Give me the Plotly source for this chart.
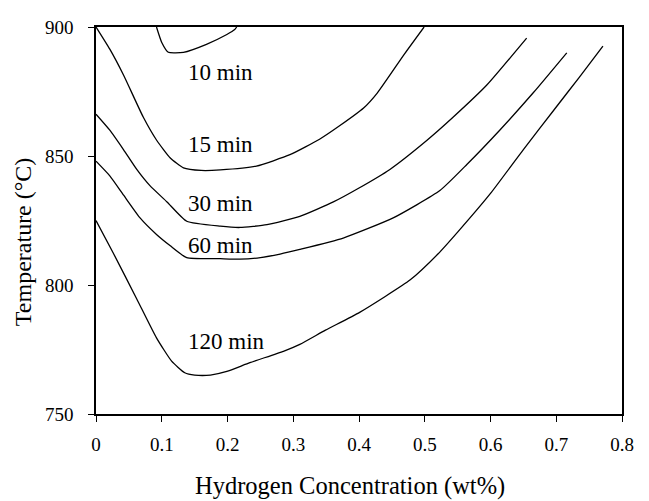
import plotly.graph_objects as go

# ---- data ----
x_10 = [0.092, 0.100, 0.110, 0.133, 0.168, 0.199, 0.211, 0.214]
y_10 = [900, 894.0, 890.2, 890.2, 893.3, 897.1, 899.0, 900]

x_15 = [0, 0.021, 0.042, 0.072, 0.092, 0.113, 0.133, 0.160, 0.189, 0.244, 0.295,
        0.340, 0.371, 0.407, 0.428, 0.469, 0.499]
y_15 = [900, 891.4, 881.3, 865.0, 856.2, 849.2, 845.4, 844.4, 844.6, 846.1, 850.5,
        856.5, 861.8, 868.6, 874.5, 889.5, 900]

x_30 = [0, 0.021, 0.042, 0.062, 0.082, 0.108, 0.138, 0.189, 0.219, 0.260, 0.310,
        0.361, 0.398, 0.447, 0.503, 0.543, 0.594, 0.655]
y_30 = [866.2, 860.0, 852.4, 844.8, 838.5, 832.2, 824.7, 822.8, 822.3, 823.4, 826.6,
        832.2, 837.3, 844.8, 856.0, 865.0, 877.4, 895.7]

x_60 = [0, 0.021, 0.042, 0.067, 0.092, 0.113, 0.138, 0.189, 0.219, 0.250, 0.280,
        0.310, 0.376, 0.452, 0.523, 0.564, 0.614, 0.665, 0.716]
y_60 = [848.0, 842.3, 834.8, 826.0, 819.6, 815.2, 810.6, 810.2, 810.0, 810.6, 812.0,
        813.8, 818.2, 826.0, 836.6, 846.7, 860.0, 874.5, 890.0]

x_120 = [0, 0.026, 0.062, 0.092, 0.115, 0.135, 0.150, 0.174, 0.199, 0.234, 0.285,
         0.310, 0.349, 0.401, 0.478, 0.520, 0.550, 0.600, 0.650, 0.700, 0.735, 0.771]
y_120 = [825.0, 812.5, 794.6, 779.5, 770.5, 766.0, 765.1, 765.1, 766.5, 769.9, 774.3,
         777.0, 782.5, 789.4, 802.0, 812.0, 820.5, 835.5, 852.5, 869.0, 880.5, 892.6]

label_text = ["10 min", "15 min", "30 min", "60 min", "120 min"]
label_x = [0.190, 0.189, 0.189, 0.189, 0.199]
label_y = [882.2, 854.3, 831.6, 815.2, 778.0]

x_ticks = [0, 0.1, 0.2, 0.3, 0.4, 0.5, 0.6, 0.7, 0.8]
y_ticks = [750, 800, 850, 900]

FONT = "Liberation Serif, Times New Roman, serif"

fig = go.Figure()
for xs, ys in [(x_10, y_10), (x_15, y_15), (x_30, y_30), (x_60, y_60), (x_120, y_120)]:
    fig.add_trace(go.Scatter(x=xs, y=ys, mode="lines",
                             line=dict(color="black", width=1.3, shape="spline", smoothing=0.5),
                             showlegend=False, hoverinfo="skip"))

for t, lx, ly in zip(label_text, label_x, label_y):
    fig.add_annotation(x=lx, y=ly, text=t, showarrow=False, xref="x", yref="y",
                       xanchor="center", yanchor="middle",
                       font=dict(family=FONT, size=23, color="black"))

# plot area spans 526 x 397 px
fig.add_annotation(x=(350 - 96) / 526, y=(414.3 - 488) / 397, xref="paper", yref="paper",
                   xanchor="center", yanchor="middle",
                   text="Hydrogen Concentration (wt%)", showarrow=False,
                   font=dict(family=FONT, size=24.5, color="black"))
fig.add_annotation(x=(23 - 96) / 526, y=(414.3 - 238) / 397, xref="paper", yref="paper",
                   xanchor="center", yanchor="middle",
                   text="Temperature (°C)", showarrow=False, textangle=-90,
                   font=dict(family=FONT, size=24, color="black"))

axis_common = dict(showgrid=False, zeroline=False, showline=True, linecolor="black",
                   linewidth=1.5, mirror=True, ticks="outside", ticklen=6,
                   tickwidth=1.3, tickcolor="black",
                   tickfont=dict(family=FONT, size=19, color="black"))

fig.update_xaxes(range=[0, 0.8], tickvals=x_ticks,
                 ticktext=["0" if v == 0 else f"{v:.1f}" for v in x_ticks],
                 ticklabelstandoff=6, **axis_common)
fig.update_yaxes(range=[750, 900], tickvals=y_ticks, ticktext=[str(v) for v in y_ticks],
                 ticklabelstandoff=11, **axis_common)

# the page body adds an 8 px offset; margins compensate so the plot lands where it should
fig.update_layout(width=649, height=501, plot_bgcolor="white", paper_bgcolor="white",
                  margin=dict(l=88, r=35, t=9, b=95),
                  font=dict(family=FONT, color="black"))

fig.write_html("out.html")
